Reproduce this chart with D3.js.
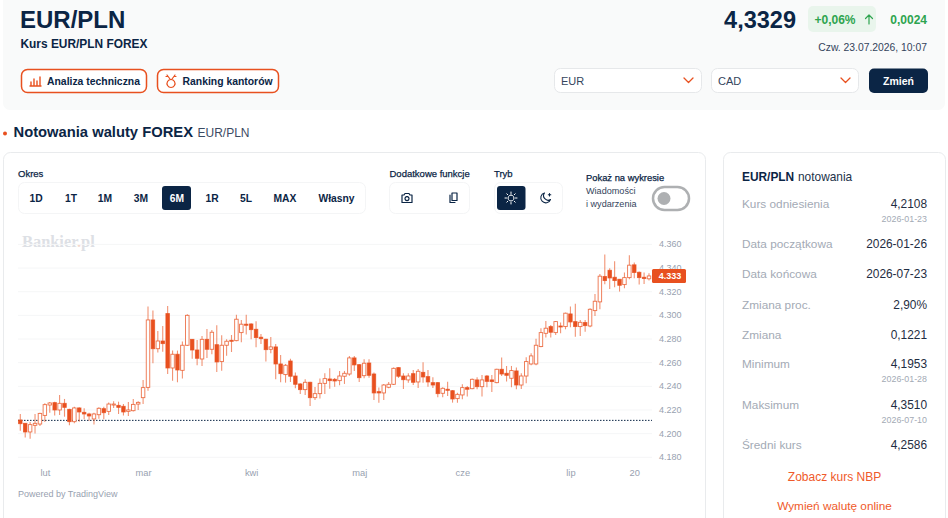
<!DOCTYPE html>
<html lang="pl"><head><meta charset="utf-8">
<script src="https://cdn.jsdelivr.net/npm/d3@7/dist/d3.min.js"></script>
<style>html,body{margin:0;padding:0;background:#fff;overflow:hidden}svg{display:block}text{font-family:"Liberation Sans",Arial,sans-serif}</style>
</head><body><svg id="c" width="948" height="518"></svg>
<script>
const firstDay="2026-01-26", lastDay="2026-07-23";
const open=[4.2111,4.2083,4.2010,4.2066,4.2077,4.2150,4.2238,4.2258,4.2196,4.2252,4.2201,4.2097,4.2213,4.2176,4.2162,4.2120,4.2156,4.2207,4.2184,4.2243,4.2235,4.2227,4.2184,4.2190,4.2246,4.2300,4.2387,4.2957,4.2714,4.2779,4.3011,4.2551,4.2667,4.2531,4.2743,4.2793,4.2703,4.2627,4.2793,4.2709,4.2748,4.2605,4.2743,4.2785,
4.2782,4.2850,4.2921,4.2923,4.2878,4.2811,4.2794,4.2709,4.2729,4.2585,4.2495,4.2610,4.2483,4.2416,4.2368,4.2430,4.2300,4.2334,4.2421,4.2458,4.2455,4.2444,4.2481,4.2500,4.2636,4.2579,4.2486,4.2593,4.2500,4.2351,4.2340,4.2388,4.2413,4.2554,4.2483,4.2450,4.2503,4.2433,4.2514,4.2478,4.2427,4.2427,4.2337,4.2371,4.2359,4.2292,
4.2323,4.2385,4.2376,4.2450,4.2393,4.2483,4.2450,4.2427,4.2540,4.2506,4.2464,4.2526,4.2407,4.2483,4.2585,4.2585,4.2732,4.2844,4.2901,4.2850,4.2906,4.2901,4.3008,4.2943,4.2901,4.2935,4.2906,4.3036,4.3110,4.3324,4.3377,4.3318,4.3301,4.3256,4.3315,4.3423,4.3360,4.3318,4.3305];
const close=[4.2080,4.2010,4.2072,4.2083,4.2167,4.2241,4.2255,4.2196,4.2252,4.2218,4.2097,4.2213,4.2179,4.2162,4.2145,4.2162,4.2210,4.2173,4.2246,4.2246,4.2218,4.2179,4.2196,4.2243,4.2260,4.2385,4.2957,4.2714,4.2779,4.2757,4.2551,4.2667,4.2534,4.2743,4.2996,4.2703,4.2633,4.2793,4.2709,4.2853,4.2602,4.2743,4.2777,4.2777,
4.2963,4.2921,4.2912,4.2875,4.2808,4.2799,4.2706,4.2729,4.2585,4.2503,4.2574,4.2481,4.2413,4.2368,4.2430,4.2300,4.2334,4.2421,4.2461,4.2444,4.2441,4.2483,4.2506,4.2636,4.2577,4.2469,4.2591,4.2489,4.2340,4.2340,4.2407,4.2413,4.2548,4.2481,4.2452,4.2483,4.2430,4.2523,4.2475,4.2433,4.2407,4.2334,4.2379,4.2362,4.2289,4.2328,
4.2385,4.2371,4.2455,4.2393,4.2450,4.2438,4.2436,4.2540,4.2500,4.2489,4.2529,4.2407,4.2483,4.2605,4.2653,4.2743,4.2850,4.2887,4.2853,4.2943,4.2901,4.3014,4.2940,4.2901,4.2937,4.2909,4.3047,4.3115,4.3327,4.3290,4.3312,4.3290,4.3250,4.3315,4.3420,4.3358,4.3315,4.3307,4.3329];
const high=[4.2162,4.2083,4.2094,4.2162,4.2173,4.2252,4.2263,4.2266,4.2322,4.2289,4.2207,4.2224,4.2218,4.2210,4.2173,4.2173,4.2218,4.2224,4.2260,4.2269,4.2266,4.2246,4.2263,4.2289,4.2269,4.2449,4.3070,4.3036,4.2864,4.2906,4.3075,4.2698,4.2698,4.2774,4.3005,4.2796,4.2788,4.2822,4.2881,4.2872,4.2912,4.2827,4.2793,4.2830,
4.3000,4.2957,4.3000,4.2929,4.2946,4.2839,4.2799,4.2813,4.2754,4.2661,4.2585,4.2630,4.2512,4.2421,4.2455,4.2435,4.2390,4.2461,4.2506,4.2548,4.2467,4.2526,4.2526,4.2653,4.2653,4.2585,4.2624,4.2624,4.2512,4.2385,4.2416,4.2433,4.2554,4.2557,4.2506,4.2506,4.2534,4.2543,4.2599,4.2534,4.2472,4.2433,4.2388,4.2435,4.2365,4.2342,
4.2413,4.2399,4.2461,4.2472,4.2492,4.2492,4.2492,4.2545,4.2639,4.2568,4.2568,4.2554,4.2506,4.2641,4.2675,4.2799,4.2887,4.2949,4.2915,4.2949,4.2935,4.3019,4.3070,4.3093,4.2957,4.2957,4.3056,4.3177,4.3346,4.3510,4.3394,4.3454,4.3301,4.3358,4.3504,4.3442,4.3366,4.3358,4.3352];
const low=[4.2021,4.1964,4.1953,4.1998,4.2060,4.2094,4.2173,4.2150,4.2153,4.2139,4.2066,4.2083,4.2097,4.2117,4.2105,4.2074,4.2122,4.2117,4.2153,4.2213,4.2162,4.2150,4.2145,4.2184,4.2196,4.2246,4.2359,4.2590,4.2681,4.2689,4.2500,4.2444,4.2430,4.2461,4.2737,4.2630,4.2574,4.2568,4.2636,4.2667,4.2517,4.2528,4.2655,4.2686,
4.2777,4.2768,4.2833,4.2794,4.2726,4.2754,4.2605,4.2675,4.2455,4.2430,4.2427,4.2433,4.2379,4.2331,4.2323,4.2230,4.2280,4.2292,4.2331,4.2376,4.2393,4.2404,4.2416,4.2486,4.2526,4.2433,4.2464,4.2469,4.2280,4.2258,4.2280,4.2379,4.2407,4.2467,4.2373,4.2427,4.2407,4.2382,4.2427,4.2393,4.2382,4.2303,4.2303,4.2314,4.2258,4.2258,
4.2286,4.2309,4.2371,4.2371,4.2309,4.2388,4.2348,4.2421,4.2483,4.2436,4.2388,4.2371,4.2374,4.2421,4.2574,4.2574,4.2726,4.2808,4.2808,4.2830,4.2844,4.2878,4.2895,4.2816,4.2822,4.2858,4.2895,4.2991,4.3047,4.3259,4.3219,4.3234,4.3197,4.3225,4.3301,4.3310,4.3256,4.3262,4.3290];
const priceTicks=[4.18,4.20,4.22,4.24,4.26,4.28,4.30,4.32,4.34,4.36];
const monthTicks=["2026-02-02","2026-03-02","2026-04-01","2026-05-01","2026-06-01","2026-07-01","2026-07-20"];
const monthLabels=["lut","mar","kwi","maj","cze","lip","20"];
const referencePrice=4.2108, lastPrice=4.3329;
const periods=["1D","1T","1M","3M","6M","1R","5L","MAX","Własny"];
const periodCenters=[36,71,105,141,177,212,246,285,336.5];
const infoLabels=["Kurs odniesienia","Data początkowa","Data końcowa","Zmiana proc.","Zmiana","Minimum","Maksimum","Średni kurs"];
const infoValues=["4,2108","2026-01-26","2026-07-23","2,90%","0,1221","4,1953","4,3510","4,2586"];
const infoDates=["2026-01-23",null,null,null,null,"2026-01-28","2026-07-10",null];
const infoY=[208,248,278,309,339,368,409,449];

const ORANGE="#e8501f", NAVY="#0b2545", GREY="#98a1b0", GREEN="#2ea44f";
const svg=d3.select("#c");
const fmtDay=d3.utcFormat("%Y-%m-%d");
const days=d3.utcDays(new Date(firstDay),d3.utcDay.offset(new Date(lastDay),1)).filter(d=>d.getUTCDay()%6!==0).map(fmtDay);

function rect(x,y,w,h,r,fill,stroke,sw){return svg.append("rect").attr("x",x).attr("y",y).attr("width",w).attr("height",h).attr("rx",r).attr("fill",fill).attr("stroke",stroke||"none").attr("stroke-width",sw||0);}
function txt(x,y,s,size,color,weight,anchor){return svg.append("text").attr("x",x).attr("y",y).text(s).attr("font-size",size).attr("fill",color).attr("font-weight",weight||400).attr("text-anchor",anchor||"start");}
function medium(x,y,s,size){return txt(x,y,s,size,NAVY).attr("stroke",NAVY).attr("stroke-width",.25);}
function icon(x,y,d,color,sw){return svg.append("path").attr("transform",`translate(${x},${y})`).attr("d",d).attr("fill","none").attr("stroke",color).attr("stroke-width",sw||1.2).attr("stroke-linecap","round").attr("stroke-linejoin","round");}

// header panel
rect(3,-10,942,120,7,"#f9fafa");
txt(20,27.5,"EUR/PLN",24,NAVY,700);
txt(20.5,47.5,"Kurs EUR/PLN FOREX",11.9,NAVY,700);
rect(21.5,69.5,125,23,6,"#fff",ORANGE,1.5);
rect(157.5,69.5,121,23,6,"#fff",ORANGE,1.5);
txt(47,85,"Analiza techniczna",10.4,NAVY,700);
txt(182.5,85,"Ranking kantorów",10.4,NAVY,700);
icon(30,76,"M1 9V6M4 9V3M7 9V5M10 9V1M0 10H11",ORANGE,1.4);
icon(165,75,"M2 0L5 4M10 0L7 4M6 4.5a4 4 0 1 0 .01 0M1 1.5H3M9 1.5H11",ORANGE,1.2);
txt(796,28,"4,3329",23.5,NAVY,700,"end");
rect(808,6,68,26,5,"#e9f5ec");
txt(814.5,24,"+0,06%",12,GREEN,700);
icon(865.5,15,"M0 3.5L3.5 0L7 3.5M3.5 0V9",GREEN,1.2);
txt(927,24,"0,0024",12,GREEN,700,"end");
txt(927,51,"Czw. 23.07.2026, 10:07",10.35,"#34445c",400,"end");
[555,712].forEach((x,i)=>{
  rect(x-.5,68.5,147,24,6,"#fff","#e6e8ea",1);
  txt(x+6,85,["EUR","CAD"][i],11,"#34445c");
  icon(x+129,78,"M0 0L4.5 4.5L9 0",ORANGE,1.3);
});
rect(869,68.5,59,24.5,5,NAVY);
txt(898.5,85,"Zmień",10.5,"#fff",700,"middle");

// section heading
svg.append("circle").attr("cx",5).attr("cy",133.5).attr("r",2).attr("fill",ORANGE);
txt(13.5,137,"Notowania waluty FOREX",14.75,NAVY,700);
txt(197.5,137,"EUR/PLN",12,"#3b4b63");

// cards
rect(3.5,152.5,702,400,7,"#fff","#e9ebed",1);
rect(723.5,152.5,222,400,7,"#fff","#e9ebed",1);

// toolbar
medium(18,177,"Okres",9.5);
rect(18.5,182.5,347,31,6,"#fff","#f4f5f6",1);
rect(162,186,29,24,3,NAVY);
periods.forEach((p,i)=>txt(periodCenters[i],202,p,10.3,p==="6M"?"#fff":NAVY,700,"middle"));
medium(389.5,177,"Dodatkowe funkcje",9.5);
rect(389.5,182.5,80,31,6,"#fff","#f4f5f6",1);
icon(402,193,"M0 2H2L3 .5H7L8 2H10V9.5H0ZM5 3.6a2 2 0 1 0 .01 0",NAVY,1.2);
icon(449,193,"M3 0H8V7.5H3ZM1 2V9.5H6",NAVY,1.2);
medium(494,177,"Tryb",9.5);
rect(494.5,182.5,68,31,6,"#fff","#f4f5f6",1);
rect(497,186,28.5,24,3,NAVY);
icon(511,198,"M0 -6V-4.5M0 6V4.5M-6 0H-4.5M6 0H4.5M-4.2 -4.2L-3.2 -3.2M4.2 4.2L3.2 3.2M-4.2 4.2L-3.2 3.2M4.2 -4.2L3.2 -3.2M0 -3a3 3 0 1 0 .01 0","#fff",1);
icon(546,198,"M-1.5 -5A5 5 0 1 0 4.5 1.5A4.5 4.5 0 0 1 -1.5 -5ZM3.5 -4.5V-2M2.3 -3.2H4.8",NAVY,1.1);
medium(586,181,"Pokaż na wykresie",9.4);
txt(586,194,"Wiadomości",9.1,"#34445c");
txt(586,207,"i wydarzenia",9.1,"#34445c");
rect(653,187,36,23,11.5,"#fff","#aeb0b2",2.5);
svg.append("circle").attr("cx",664).attr("cy",198.5).attr("r",6.5).attr("fill","#aeb0b2");

// chart
const mark=txt(22,246.5,"Bankier",16.4,"#dde0e5",700).style("font-family","'Liberation Serif',serif");
mark.append("tspan").attr("fill","#f3d9cf").text(".");
mark.append("tspan").text("pl");

const y=d3.scaleLinear().domain([4.18,4.36]).range([456.8,243.9]);
const x=d3.scalePoint().domain(days).range([20.3,649]);
const gridL=18, gridR=652;
svg.append("g").selectAll("line").data(priceTicks).join("line")
  .attr("x1",gridL).attr("x2",gridR).attr("y1",d=>y(d)+.5).attr("y2",d=>y(d)+.5).attr("stroke","#f5f6f7");
svg.append("line").attr("x1",gridL).attr("x2",gridR).attr("y1",y(referencePrice)).attr("y2",y(referencePrice))
  .attr("stroke",NAVY).attr("stroke-width",1).attr("stroke-dasharray","1.5 1.5");

const candles=days.map((d,i)=>({d,o:open[i],c:close[i],h:high[i],l:low[i]}));
const bw=3.5;
const g=svg.append("g");
g.selectAll("line").data(candles).join("line")
  .attr("x1",d=>x(d.d)).attr("x2",d=>x(d.d)).attr("y1",d=>y(d.h)).attr("y2",d=>y(d.l))
  .attr("stroke",ORANGE).attr("stroke-width",1.1).attr("stroke-opacity",.62);
g.selectAll("rect").data(candles).join("rect")
  .attr("x",d=>x(d.d)-bw/2).attr("width",bw)
  .attr("y",d=>y(Math.max(d.o,d.c)))
  .attr("height",d=>Math.max(1,Math.abs(y(d.o)-y(d.c))))
  .attr("fill",d=>d.c>=d.o?"#fff":ORANGE)
  .attr("stroke",ORANGE).attr("stroke-width",.9).attr("stroke-opacity",.8);

const yAxis=svg.append("g").attr("transform",`translate(${gridR},0)`)
  .call(d3.axisRight(y).tickValues(priceTicks).tickFormat(d3.format(".3f")).tickSize(0).tickPadding(7));
yAxis.select(".domain").remove();
yAxis.selectAll("text").attr("font-size",9).attr("fill",GREY).style("font-family","'Liberation Sans',Arial,sans-serif");
const xAxis=svg.append("g").attr("transform","translate(0,467.5)")
  .call(d3.axisBottom(x).tickValues(monthTicks).tickFormat((d,i)=>monthLabels[i]).tickSize(0).tickPadding(2));
xAxis.select(".domain").remove();
xAxis.selectAll("text").attr("font-size",9.3).attr("fill",GREY).style("font-family","'Liberation Sans',Arial,sans-serif");
rect(652,269,34,14,1.5,ORANGE);
txt(670,279.3,d3.format(".3f")(lastPrice),9,"#fff",700,"middle");
txt(18,497,"Powered by TradingView",9,GREY);

// info card
txt(742,181,"EUR/PLN",11.9,NAVY,700);
txt(798,181,"notowania",11.9,"#22324a");
infoLabels.forEach((l,i)=>{
  txt(742,infoY[i],l,11.8,"#a3aab5");
  txt(927,infoY[i],infoValues[i],11.9,"#1f2d42",400,"end");
  if(infoDates[i]) txt(927,infoY[i]+14,infoDates[i],8.9,"#a3aab5",400,"end");
});
txt(834.5,481,"Zobacz kurs NBP",12,"#ef5a2a",400,"middle");
txt(834.5,510,"Wymień walutę online",11.8,"#ef5a2a",400,"middle");
</script></body></html>
